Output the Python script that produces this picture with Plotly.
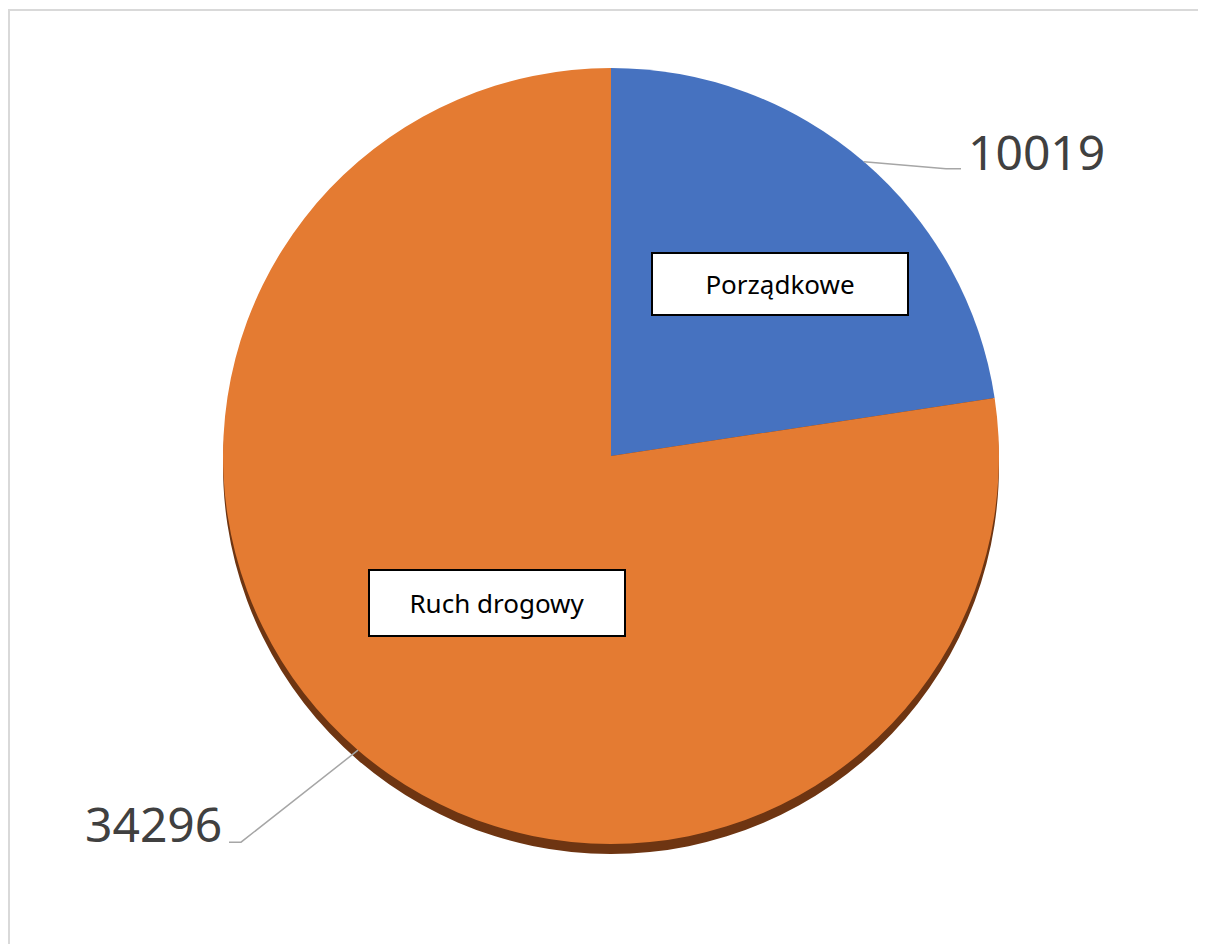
import math
import plotly.graph_objects as go

# data
categories = ['Porządkowe', 'Ruch drogowy']
values = [10019, 34296]
colors = ['#4672C0', '#E47B32']
shadow_color = '#6E3512'

W, H = 1206, 944
OFF = 8                      # page body margin
cx, cy, r = 611, 456, 388    # pie centre / radius in px (screen)


def px(x):
    return (x - OFF) / W


def py(y):
    return 1 - (y - OFF) / H


fig = go.Figure()

# 3D-ish edge under the pie
fig.add_trace(go.Pie(
    labels=categories, values=values, sort=False, direction='clockwise', rotation=0,
    marker=dict(colors=[shadow_color, shadow_color], line=dict(width=0)),
    textinfo='none', hoverinfo='skip', showlegend=False,
    domain=dict(x=[px(cx - r), px(cx + r)], y=[py(cy + 10 + r), py(cy + 10 - r)]),
))

fig.add_trace(go.Pie(
    labels=categories, values=values, sort=False, direction='clockwise', rotation=0,
    marker=dict(colors=colors, line=dict(width=0)),
    textinfo='none', hoverinfo='skip', showlegend=False,
    domain=dict(x=[px(cx - r), px(cx + r)], y=[py(cy + r), py(cy - r)]),
))

# slice mid-angles from the data (clockwise from 12 o'clock)
total = sum(values)
mid_angles = []
start = 0
for v in values:
    sweep = 360 * v / total
    mid_angles.append(start + sweep / 2)
    start += sweep

# label placement tweaks (px)
box_frac = [0.62, 0.48]
box_turn = [3.8, -2.9]
box_h = [60, 64]
elbow = [(82, 7), (-117, 92)]
tail = [15, -12]
text_dy = [-17, -19]

shapes = [dict(type='rect', xref='paper', yref='paper',
               x0=px(9), x1=px(1200), y0=-0.05, y1=py(10),
               line=dict(color='#D9D9D9', width=2), fillcolor='rgba(0,0,0,0)')]
annotations = []

for i, (name, v, a) in enumerate(zip(categories, values, mid_angles)):
    t = math.radians(a)
    # category box inside the slice
    tb = math.radians(a + box_turn[i])
    bx = cx + box_frac[i] * r * math.sin(tb)
    by = cy - box_frac[i] * r * math.cos(tb)
    annotations.append(dict(
        x=px(bx), y=py(by), xref='paper', yref='paper', text=name, showarrow=False,
        font=dict(family='Noto Sans', size=26, color='black'),
        bgcolor='white', bordercolor='black', borderwidth=2, borderpad=0,
        width=254, height=box_h[i], xanchor='center', yanchor='middle',
    ))
    # leader line and value label outside
    ex = cx + r * math.sin(t)
    ey = cy - r * math.cos(t)
    kx, ky = ex + elbow[i][0], ey + elbow[i][1]
    tx = kx + tail[i]
    shapes.append(dict(
        type='path', xref='paper', yref='paper',
        path=f'M {px(ex)},{py(ey)} L {px(kx)},{py(ky)} L {px(tx)},{py(ky)}',
        line=dict(color='#A6A6A6', width=1.5),
    ))
    annotations.append(dict(
        x=px(tx + (5 if tail[i] > 0 else -5)), y=py(ky + text_dy[i]), xref='paper', yref='paper',
        text=str(v), showarrow=False,
        font=dict(family='Noto Sans', size=48, color='#404040'),
        xanchor='left' if tail[i] > 0 else 'right', yanchor='middle',
    ))

fig.update_layout(
    width=W, height=H,
    margin=dict(l=0, r=0, t=0, b=0),
    paper_bgcolor='white',
    plot_bgcolor='white',
    shapes=shapes,
    annotations=annotations,
)

fig.write_html("out.html")
